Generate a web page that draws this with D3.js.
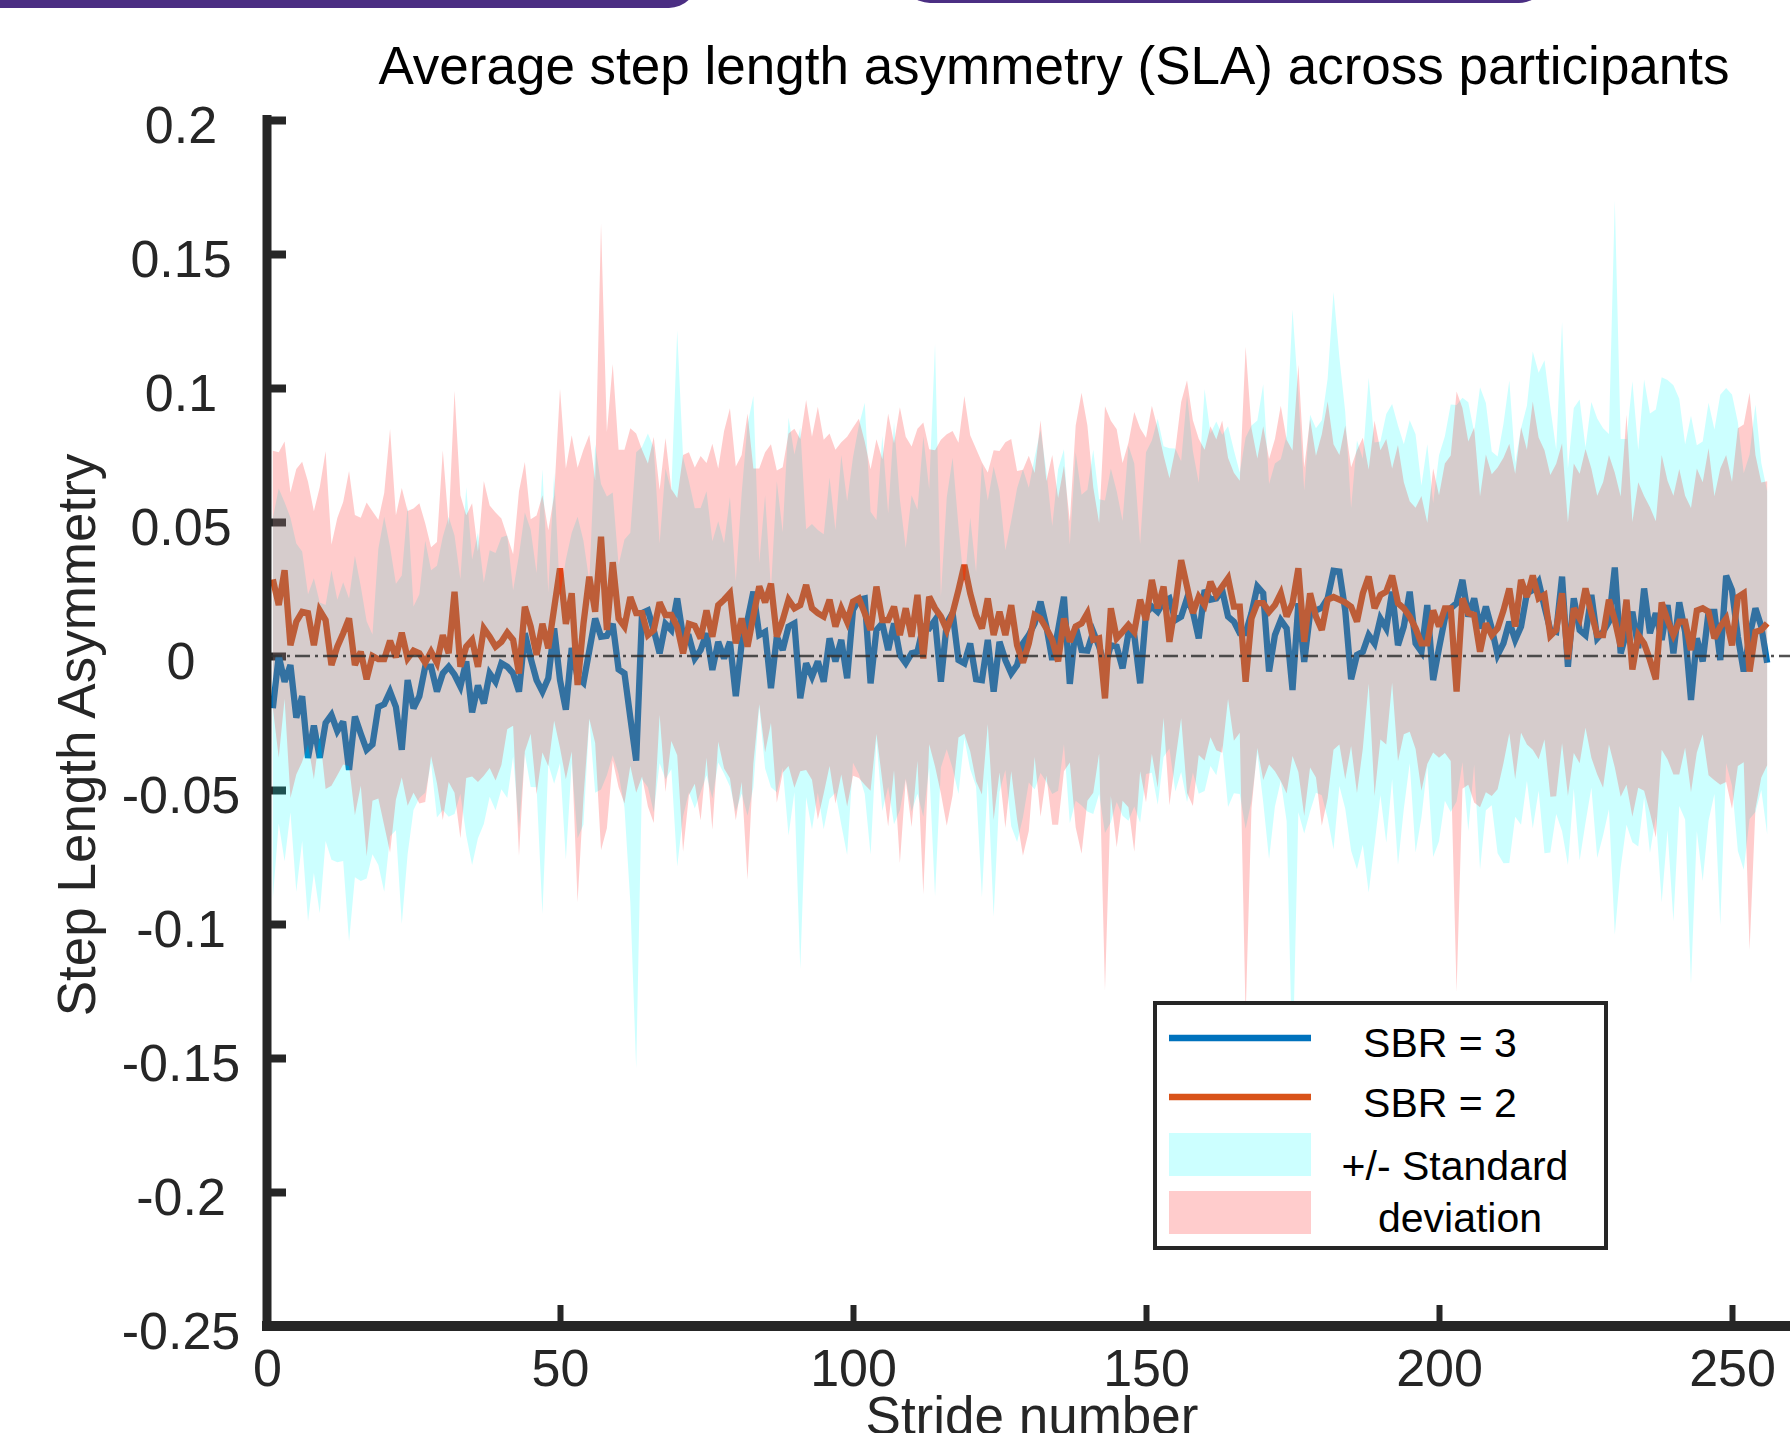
<!DOCTYPE html>
<html><head><meta charset="utf-8">
<script src="https://cdn.jsdelivr.net/npm/d3@7"></script>
<style>html,body{margin:0;padding:0;background:#fff;overflow:hidden;} svg{display:block;font-family:"Liberation Sans",Arial,sans-serif;}</style>
</head><body><svg id="c" width="1790" height="1433"></svg>
<script>
// ---------------- data ----------------
const xTicks = [0, 50, 100, 150, 200, 250];
const yTicks = [0.2, 0.15, 0.1, 0.05, 0, -0.05, -0.1, -0.15, -0.2, -0.25];
const yTickLabels = ["0.2","0.15","0.1","0.05","0","-0.05","-0.1","-0.15","-0.2","-0.25"];
const seriesNames = ["SBR = 3", "SBR = 2"];
const bandLabel = ["+/- Standard", "deviation"];

// mean SLA, SBR = 3 (strides 1..256)
const sbr3Mean = [-0.0195,0.000,-0.0096,-0.0034,-0.023,-0.015,-0.038,-0.026,-0.038,-0.025,
 -0.022,-0.028,-0.0245,-0.0425,-0.0226,-0.029,-0.035,-0.033,-0.019,-0.018,
 -0.0133,-0.019,-0.035,-0.009,-0.0195,-0.015,-0.004,-0.004,-0.0133,-0.0065,
 -0.004,-0.007,-0.0114,-0.002,-0.021,-0.011,-0.0177,-0.0065,-0.0096,-0.0027,
 -0.004,-0.0065,-0.0133,0.0085,-0.0009,-0.009,-0.0133,-0.0083,0.0103,-0.009,
 -0.020,0.003,-0.008,-0.010,0.002,0.014,0.0072,0.0075,0.012,-0.005,
 -0.0065,-0.023,-0.039,0.016,0.017,0.0097,0.001,0.012,0.0097,0.0215,
 0.0072,0.0072,-0.0009,0.0022,0.0085,-0.0052,0.0053,-0.0009,0.0053,-0.015,
 0.0047,0.0134,0.024,0.0078,0.009,-0.012,0.0072,0.0022,0.011,0.0122,
 -0.0158,-0.0027,-0.0077,-0.002,-0.0096,0.0066,-0.002,0.006,-0.0083,0.0172,
 0.021,0.0215,-0.0102,0.0097,0.0122,0.0022,0.0122,0.0004,-0.0027,0.001,
 0.0016,0.011,0.0103,0.0134,-0.0096,0.0122,0.016,-0.0015,-0.0027,0.0047,
 -0.0087,-0.009,0.006,-0.0133,0.0053,-0.0015,-0.0065,-0.0034,0.0047,0.0078,
 0.0122,0.0203,0.011,-0.0015,0.0097,0.0221,-0.0104,0.011,0.0022,0.002,
 0.009,0.0035,-0.004,0.004,0.0035,-0.0046,0.0085,0.0078,-0.0102,0.016,
 0.0184,0.0165,0.0203,0.0215,0.0134,0.0147,0.0215,0.0165,0.0066,0.0246,
 0.021,0.0215,0.0246,0.0147,0.0128,0.0085,0.0085,0.016,0.0259,0.0234,
 -0.0058,0.0078,0.0134,0.0103,-0.0127,0.0197,-0.0022,0.016,0.017,0.018,
 0.0215,0.0318,0.0315,0.017,-0.0087,0.0004,0.0016,0.0078,0.0047,0.014,
 0.0103,0.024,0.004,0.011,0.024,0.0047,0.0016,0.019,-0.009,0.0029,
 0.014,0.0178,0.0197,0.0284,0.0147,0.0215,0.0103,0.0184,0.0103,0.0004,
 0.0047,0.0128,0.006,0.011,0.0234,0.0246,0.0277,0.0184,0.0097,0.009,
 0.0296,-0.004,0.0215,0.0097,0.0078,0.0228,0.0066,0.009,0.0128,0.033,
 0.001,0.009,0.0165,0.0029,0.0252,0.0085,0.016,0.006,0.019,0.001,
 0.020,0.009,-0.0164,0.0066,-0.002,0.0165,0.0165,-0.0015,0.030,0.0246,
 0.0072,-0.0058,0.0072,0.0178,0.011,-0.0025];

// standard deviation, SBR = 3
const sbr3Sd = [0.071,0.0625,0.067,0.055,0.065,0.054,0.061,0.055,0.058,0.044,
 0.054,0.049,0.052,0.064,0.060,0.055,0.048,0.041,0.059,0.070,
 0.054,0.046,0.065,0.065,0.038,0.038,0.047,0.036,0.047,0.051,
 0.056,0.052,0.040,0.065,0.057,0.057,0.045,0.046,0.048,0.047,
 0.049,0.031,0.051,0.045,0.048,0.040,0.083,0.032,0.058,0.031,
 0.056,0.043,0.060,0.053,0.026,0.065,0.057,0.052,0.049,0.039,
 0.050,0.069,0.115,0.062,0.066,0.068,0.041,0.058,0.052,0.100,
 0.067,0.058,0.056,0.053,0.053,0.048,0.045,0.043,0.054,0.043,
 0.056,0.073,0.073,0.027,0.051,0.037,0.058,0.044,0.078,0.063,
 0.101,0.050,0.057,0.049,0.055,0.060,0.049,0.069,0.066,0.057,
 0.065,0.073,0.064,0.041,0.070,0.051,0.075,0.058,0.043,0.059,
 0.053,0.071,0.052,0.103,0.032,0.047,0.058,0.050,0.028,0.047,
 0.040,0.081,0.052,0.084,0.056,0.041,0.057,0.066,0.065,0.055,
 0.062,0.064,0.058,0.050,0.060,0.055,0.052,0.065,0.058,0.060,
 0.068,0.055,0.062,0.066,0.058,0.055,0.070,0.064,0.052,0.060,
 0.062,0.072,0.058,0.056,0.064,0.058,0.076,0.060,0.058,0.075,
 0.062,0.066,0.058,0.071,0.064,0.060,0.073,0.070,0.062,0.078,
 0.070,0.064,0.060,0.072,0.142,0.078,0.064,0.074,0.068,0.070,
 0.082,0.104,0.080,0.074,0.064,0.080,0.072,0.096,0.075,0.066,
 0.080,0.070,0.082,0.068,0.064,0.078,0.062,0.060,0.066,0.072,
 0.068,0.076,0.074,0.068,0.080,0.062,0.090,0.076,0.066,0.074,
 0.082,0.090,0.066,0.074,0.070,0.089,0.078,0.092,0.083,0.068,
 0.095,0.074,0.071,0.086,0.070,0.072,0.082,0.076,0.070,0.137,
 0.080,0.072,0.086,0.074,0.078,0.082,0.076,0.098,0.084,0.100,
 0.076,0.070,0.106,0.072,0.082,0.078,0.068,0.099,0.070,0.073,
 0.080,0.074,0.068,0.076,0.061,0.064];

// mean SLA, SBR = 2
const sbr2Mean = [0.0286,0.019,0.032,0.004,0.0128,0.0165,0.016,0.004,0.017,0.0134,
 -0.0034,0.0035,0.0085,0.014,-0.0034,0.0016,-0.0087,0.000,-0.0012,-0.0012,
 0.0057,-0.0005,0.0087,-0.0009,0.002,0.001,-0.0025,0.0016,-0.0025,0.0078,
 0.001,0.024,-0.004,0.0035,0.006,-0.004,0.0103,0.0072,0.0035,0.0053,
 0.0087,0.006,-0.0065,0.0184,0.011,0.0004,0.012,0.0029,0.0178,0.0327,
 0.012,0.0234,-0.0108,0.012,0.0296,0.0165,0.0445,0.0097,0.035,0.014,
 0.011,0.022,0.016,0.016,0.0078,0.0097,0.020,0.0153,0.0153,0.011,
 0.001,0.012,0.0113,0.0066,0.017,0.0072,0.019,0.021,0.0234,0.0047,
 0.014,0.0035,0.015,0.026,0.020,0.027,0.0072,0.0134,0.021,0.0178,
 0.019,0.0265,0.0178,0.016,0.0147,0.021,0.011,0.0178,0.0128,0.0203,
 0.0215,0.016,0.0097,0.0259,0.0134,0.0134,0.0184,0.0078,0.0178,0.0072,
 0.0228,-0.0009,0.0221,0.0178,0.0147,0.0097,0.016,0.0246,0.034,0.0234,
 0.0153,0.0103,0.0215,0.0078,0.0165,0.0078,0.019,0.004,-0.0025,0.0047,
 0.0153,0.014,0.0103,0.006,-0.002,0.014,0.0053,0.011,0.0122,0.016,
 0.006,0.0066,-0.0158,0.0178,0.0066,0.009,0.0116,0.009,0.021,0.0134,
 0.0284,0.0178,0.0259,0.0053,0.019,0.0358,0.0259,0.016,0.0221,0.019,
 0.0277,0.0228,0.0259,0.029,0.0184,0.0184,-0.0096,0.014,0.0197,0.0197,
 0.0165,0.019,0.0234,0.0147,0.0197,0.0327,0.0053,0.0234,0.0147,0.0097,
 0.021,0.022,0.021,0.020,0.0184,0.0128,0.0234,0.0296,0.0178,0.0228,
 0.024,0.030,0.0197,0.0178,0.0147,0.0103,0.0047,0.0047,0.017,0.011,
 0.0178,0.0178,-0.0133,0.0215,0.016,0.0153,0.0016,0.0122,0.0078,0.0103,
 0.017,0.0252,0.011,0.0284,0.022,0.030,0.0215,0.0228,0.0075,0.0097,
 0.0234,-0.0012,0.0178,0.014,0.0252,0.016,0.0078,0.0078,0.021,0.0134,
 0.0035,0.021,-0.005,0.0078,0.0047,-0.0015,-0.0087,0.020,0.0134,0.0078,
 0.0128,0.0128,0.0022,0.017,0.0178,0.0165,0.0066,0.011,0.014,0.004,
 0.022,0.0234,-0.0058,0.009,0.0097,0.0122];

// standard deviation, SBR = 2
const sbr2Sd = [0.048,0.057,0.048,0.057,0.057,0.056,0.049,0.050,0.046,0.063,
 0.045,0.048,0.049,0.055,0.056,0.050,0.066,0.054,0.052,0.062,
 0.079,0.053,0.054,0.055,0.053,0.056,0.052,0.039,0.045,0.069,
 0.048,0.075,0.064,0.049,0.051,0.043,0.055,0.049,0.050,0.046,
 0.036,0.032,0.068,0.054,0.040,0.052,0.048,0.044,0.042,0.067,
 0.058,0.059,0.081,0.065,0.053,0.049,0.117,0.074,0.074,0.063,
 0.066,0.063,0.067,0.061,0.064,0.072,0.042,0.066,0.047,0.048,
 0.074,0.064,0.059,0.068,0.055,0.072,0.051,0.063,0.069,0.066,
 0.061,0.087,0.055,0.044,0.056,0.052,0.062,0.057,0.062,0.067,
 0.062,0.069,0.064,0.077,0.066,0.062,0.066,0.062,0.069,0.065,
 0.067,0.064,0.060,0.055,0.060,0.077,0.061,0.085,0.064,0.071,
 0.062,0.088,0.055,0.059,0.066,0.073,0.068,0.055,0.063,0.059,
 0.062,0.062,0.047,0.069,0.060,0.072,0.062,0.065,0.072,0.070,
 0.053,0.074,0.055,0.069,0.061,0.057,0.045,0.075,0.086,0.070,
 0.057,0.043,0.109,0.070,0.078,0.063,0.068,0.082,0.064,0.068,
 0.065,0.067,0.049,0.061,0.058,0.059,0.077,0.072,0.059,0.058,
 0.058,0.058,0.062,0.045,0.050,0.047,0.125,0.071,0.054,0.066,
 0.057,0.062,0.070,0.066,0.057,0.076,0.065,0.065,0.060,0.073,
 0.074,0.057,0.054,0.066,0.052,0.064,0.058,0.040,0.070,0.054,
 0.057,0.040,0.059,0.047,0.043,0.045,0.055,0.045,0.053,0.049,
 0.054,0.057,0.112,0.071,0.064,0.070,0.058,0.063,0.060,0.060,
 0.057,0.054,0.057,0.057,0.055,0.065,0.060,0.054,0.060,0.062,
 0.056,0.051,0.054,0.054,0.052,0.054,0.052,0.057,0.054,0.055,
 0.056,0.069,0.055,0.057,0.055,0.057,0.059,0.055,0.052,0.052,
 0.057,0.047,0.053,0.053,0.047,0.061,0.053,0.059,0.061,0.061,
 0.063,0.063,0.104,0.066,0.055,0.053];

const strides = sbr3Mean.map((d, i) => i + 1);

// ---------------- drawing ----------------
const svg = d3.select("#c");
const x = d3.scaleLinear().domain([0, 250]).range([267, 1732]);
const y = d3.scaleLinear().domain([-0.25, 0.2]).range([1326, 120]);
const ink = "#262626";

// decorative slide elements cut by the top edge
svg.append("rect").attr("x", -40).attr("y", -60).attr("width", 737).attr("height", 68).attr("rx", 28).attr("fill", "#4b2e83");
svg.append("rect").attr("x", 902).attr("y", -60).attr("width", 645).attr("height", 63).attr("rx", 28).attr("fill", "#4b2e83");

// title
svg.append("text").attr("x", 1054).attr("y", 84).attr("text-anchor", "middle")
  .attr("font-size", 53).attr("fill", "#000").text("Average step length asymmetry (SLA) across participants");

// axes (ticks point inward, drawn below data patches)
const yAxis = d3.axisLeft(y).tickValues(yTicks).tickSizeInner(-19).tickSizeOuter(0)
  .tickFormat((d, i) => yTickLabels[i]);
const gy = svg.append("g").attr("transform", "translate(267,0)").call(yAxis);
gy.select(".domain").remove();
gy.selectAll(".tick line").attr("stroke", ink).attr("stroke-width", 8);
gy.selectAll(".tick text").attr("x", -86).attr("text-anchor", "middle").attr("y", 4)
  .attr("font-size", 52).attr("fill", ink).attr("font-family", "Liberation Sans, Arial, sans-serif").attr("dy", "0.36em");

const xAxis = d3.axisBottom(x).tickValues(xTicks).tickSizeInner(-21).tickSizeOuter(0).tickFormat(d3.format("d"));
const gx = svg.append("g").attr("transform", "translate(0,1326)").call(xAxis);
gx.select(".domain").remove();
gx.selectAll(".tick line").attr("stroke", ink).attr("stroke-width", 6);
gx.selectAll(".tick text").attr("y", 41).attr("dy", "0.36em")
  .attr("font-size", 52).attr("fill", ink).attr("font-family", "Liberation Sans, Arial, sans-serif");

// mean lines (under the translucent patches, as in the figure)
const line = d3.line().x((d, i) => x(strides[i])).y(d => y(d));
svg.append("path").datum(sbr3Mean).attr("d", line).attr("fill", "none")
  .attr("stroke", "#0072bd").attr("stroke-width", 6.3).attr("stroke-linejoin", "miter").attr("stroke-miterlimit", 3);
svg.append("path").datum(sbr2Mean).attr("d", line).attr("fill", "none")
  .attr("stroke", "#d95319").attr("stroke-width", 6.3).attr("stroke-linejoin", "miter").attr("stroke-miterlimit", 3);

// +/- SD patches
const band = (m, s) => d3.area().x((d, i) => x(strides[i]))
  .y0((d, i) => y(m[i] - s[i])).y1((d, i) => y(m[i] + s[i]));
svg.append("path").datum(sbr3Mean).attr("d", band(sbr3Mean, sbr3Sd))
  .attr("fill", "rgb(0,255,255)").attr("fill-opacity", 0.2);
svg.append("path").datum(sbr2Mean).attr("d", band(sbr2Mean, sbr2Sd))
  .attr("fill", "rgb(255,0,0)").attr("fill-opacity", 0.2);

// zero reference line
svg.append("line").attr("x1", x(0)).attr("x2", 1800).attr("y1", y(0)).attr("y2", y(0))
  .attr("stroke", "#333").attr("stroke-opacity", 0.85).attr("stroke-width", 2.6).attr("stroke-dasharray", "15,5,3,5");

// axis lines
svg.append("line").attr("x1", 267).attr("x2", 267).attr("y1", 115).attr("y2", 1331).attr("stroke", ink).attr("stroke-width", 9);
svg.append("line").attr("x1", 262).attr("x2", 1800).attr("y1", 1326).attr("y2", 1326).attr("stroke", ink).attr("stroke-width", 10);

// axis labels
svg.append("text").attr("transform", "translate(95,735) rotate(-90)").attr("text-anchor", "middle")
  .attr("font-size", 53).attr("fill", ink).text("Step Length Asymmetry");
svg.append("text").attr("x", 1032).attr("y", 1434).attr("text-anchor", "middle")
  .attr("font-size", 53).attr("fill", ink).text("Stride number");

// legend
const lg = svg.append("g");
lg.append("rect").attr("x", 1155).attr("y", 1003).attr("width", 451).attr("height", 245)
  .attr("fill", "#fff").attr("stroke", ink).attr("stroke-width", 4);
lg.append("line").attr("x1", 1169).attr("x2", 1311).attr("y1", 1038).attr("y2", 1038).attr("stroke", "#0072bd").attr("stroke-width", 6.5);
lg.append("line").attr("x1", 1169).attr("x2", 1311).attr("y1", 1097).attr("y2", 1097).attr("stroke", "#d95319").attr("stroke-width", 6.5);
lg.append("rect").attr("x", 1169).attr("y", 1133).attr("width", 142).attr("height", 43).attr("fill", "#ccffff");
lg.append("rect").attr("x", 1169).attr("y", 1191).attr("width", 142).attr("height", 43).attr("fill", "#ffcccc");
lg.append("text").attr("x", 1440).attr("y", 1057).attr("text-anchor", "middle").attr("font-size", 41).text(seriesNames[0]);
lg.append("text").attr("x", 1440).attr("y", 1117).attr("text-anchor", "middle").attr("font-size", 41).text(seriesNames[1]);
lg.append("text").attr("x", 1455).attr("y", 1180).attr("text-anchor", "middle").attr("font-size", 41).text(bandLabel[0]);
lg.append("text").attr("x", 1460).attr("y", 1232).attr("text-anchor", "middle").attr("font-size", 41).text(bandLabel[1]);
</script></body></html>
